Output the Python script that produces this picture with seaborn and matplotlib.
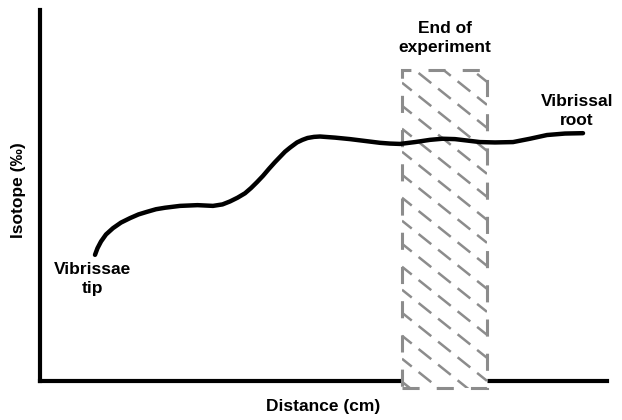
import numpy as np
import matplotlib
matplotlib.use("Agg")
import matplotlib.pyplot as plt
import seaborn as sns
from matplotlib.patches import Rectangle

sns.set_style("white")
plt.rcParams['font.family'] = ['Liberation Sans', 'DejaVu Sans']
plt.rcParams['text.color'] = 'black'

# data (arbitrary units)
distance = [1.10, 1.15, 1.22, 1.32, 1.46, 1.62, 1.80, 1.97, 2.14, 2.32, 2.50, 2.80,
            3.15, 3.46, 3.65, 3.80, 3.95, 4.10, 4.22, 4.34, 4.46, 4.58, 4.70, 4.80,
            4.90, 5.00, 5.07, 5.14, 5.25, 5.35, 5.48, 5.60, 5.90, 6.20, 6.50, 6.80,
            7.00, 7.20, 7.50, 7.80, 8.05, 8.30, 8.55, 8.80, 9.10, 9.46, 9.80,
            10.14, 10.50, 10.86]
isotope = [3.40, 3.58, 3.76, 3.95, 4.12, 4.27, 4.39, 4.49, 4.56, 4.63, 4.67, 4.72,
           4.74, 4.72, 4.76, 4.84, 4.94, 5.06, 5.20, 5.36, 5.53, 5.72, 5.90, 6.04,
           6.18, 6.29, 6.36, 6.43, 6.50, 6.55, 6.58, 6.59, 6.56, 6.52, 6.47, 6.42,
           6.40, 6.39, 6.44, 6.50, 6.53, 6.52, 6.48, 6.44, 6.43, 6.44, 6.53,
           6.63, 6.67, 6.68]
window_start, window_end = 7.24, 8.94
window_low, window_high = -0.19, 8.38

fig = plt.figure(figsize=(6.22, 4.2), dpi=100)
ax = fig.add_axes([40/622, (420-381)/420, 567/622, 371/420])
ax.set_xlim(0, 11.34)
ax.set_ylim(0, 10)

# shaded window
rect = Rectangle((window_start, window_low), window_end - window_start,
                 window_high - window_low, facecolor='white', edgecolor='#8c8c8c',
                 lw=2.2, linestyle=(0, (5.6, 5.6)), zorder=3, clip_on=False)
ax.add_patch(rect)
slope = -1.08
for c in np.arange(-2.5, 10.5, 0.62):
    xs = np.array([window_start, window_end])
    ys = c + slope * (xs - window_start)
    ln, = ax.plot(xs, ys, color='#8c8c8c', lw=1.8, linestyle=(1.5, (6.5, 3.5)),
                  zorder=3.2)
    ln.set_clip_box(None)
    ln.set_clip_path(rect)

sns.lineplot(x=distance, y=isotope, ax=ax, color='black', lw=3.2, sort=False,
             zorder=4, solid_capstyle='round')

sns.despine(ax=ax)
for s in ['left', 'bottom']:
    ax.spines[s].set_linewidth(3)
    ax.spines[s].set_color('black')
    ax.spines[s].set_zorder(1)
ax.set_xticks([])
ax.set_yticks([])

fs = 12.5
fig.text(445/622, 1 - 38/420, "End of\nexperiment", ha='center', va='center',
         fontsize=fs, fontweight='bold', linespacing=1.3)
fig.text(92/622, 1 - 279/420, "Vibrissae\ntip", ha='center', va='center',
         fontsize=fs, fontweight='bold', linespacing=1.3)
fig.text(577/622, 1 - 111/420, "Vibrissal\nroot", ha='center', va='center',
         fontsize=fs, fontweight='bold', linespacing=1.3)
fig.text(323/622, 1 - 407/420, "Distance (cm)", ha='center', va='center',
         fontsize=fs, fontweight='bold')
fig.text(19/622, 1 - 190/420, "Isotope (‰)", ha='center', va='center',
         fontsize=fs, fontweight='bold', rotation=90)

fig.savefig("out.png", dpi=100)
